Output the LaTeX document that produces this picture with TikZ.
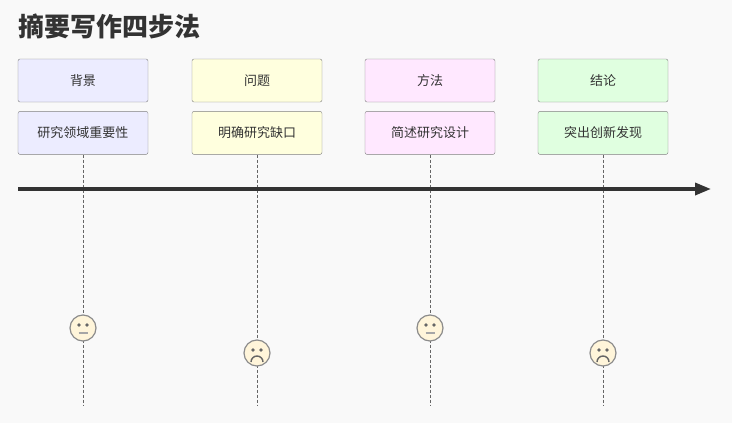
\documentclass[tikz,border=0pt]{standalone}
\usepackage{fontspec}
\newfontfamily\cjk{Noto Sans CJK SC}
\usetikzlibrary{positioning, arrows.meta}
\definecolor{bgcol}{HTML}{F9F9F9}
\definecolor{linecol}{HTML}{333333}
\definecolor{facecol}{HTML}{FFF5DA}
\tikzstyle{task} = [rectangle, rounded corners=2pt, minimum width=130pt,
minimum height=43pt, text centered, draw=black!50, font=\cjk\fontsize{13}{15}\selectfont, text=linecol]
\tikzstyle{face} = [circle, minimum size=26pt, inner sep=0pt, fill=facecol, draw=black!45, line width=1.2pt]
\tikzstyle{guide} = [densely dashed, draw=black!60, line width=0.7pt]
\tikzstyle{arrow} = [line width=3.5pt, draw=linecol, -{Triangle[length=16pt,width=12pt]}]
\newcommand{\eyes}[1]{\fill[black!60] ([shift={(-4pt,3pt)}]#1) circle (1.8pt) ([shift={(4pt,3pt)}]#1) circle (1.8pt);}
\begin{document}
\begin{tikzpicture}[x=1pt, y=-1pt]
            \fill [bgcol] (0,0) rectangle (732,423);
            \node (title) [anchor=west, inner sep=0pt, font=\cjk\bfseries\fontsize{26}{30}\selectfont, text=linecol] at (18,26) {摘要写作四步法};

            \node (sec1) [task, fill={rgb,255:red,236;green,236;blue,255}] at (83,80.5) {背景};
            \node (sec2) [task, fill={rgb,255:red,255;green,255;blue,222}] at (257,80.5) {问题};
            \node (sec3) [task, fill={rgb,255:red,255;green,232;blue,255}] at (430,80.5) {方法};
            \node (sec4) [task, fill={rgb,255:red,224;green,255;blue,224}] at (603,80.5) {结论};

            \node (step1) [task, fill={rgb,255:red,236;green,236;blue,255}, below=9pt of sec1] {研究领域重要性};
            \node (step2) [task, fill={rgb,255:red,255;green,255;blue,222}, below=9pt of sec2] {明确研究缺口};
            \node (step3) [task, fill={rgb,255:red,255;green,232;blue,255}, below=9pt of sec3] {简述研究设计};
            \node (step4) [task, fill={rgb,255:red,224;green,255;blue,224}, below=9pt of sec4] {突出创新发现};

            \coordinate (end1) at (83,405);
            \coordinate (end2) at (257,405);
            \coordinate (end3) at (430,405);
            \coordinate (end4) at (603,405);
            \draw [guide] (step1) -- (end1);
            \draw [guide] (step2) -- (end2);
            \draw [guide] (step3) -- (end3);
            \draw [guide] (step4) -- (end4);

            \coordinate (start) at (18,189);
            \coordinate (finish) at (711,189);
            \draw [arrow] (start) -- (finish);

            \node (face1) [face] at (83,328) {};
            \node (face2) [face] at (257,353) {};
            \node (face3) [face] at (430,328) {};
            \node (face4) [face] at (603,353) {};
            \foreach \f in {face1, face3} {
                \eyes{\f}
                \draw [black!35, line width=1.5pt] ([shift={(-4.5pt,-5pt)}]\f.center) -- ([shift={(4.5pt,-5pt)}]\f.center);
            }
            \foreach \f in {face2, face4} {
                \eyes{\f}
                \draw [black!60, line width=1.4pt] ([shift={(-6pt,-9pt)}]\f.center) arc [start angle=180, end angle=0, radius=6pt];
            }
        \end{tikzpicture}
\end{document}
